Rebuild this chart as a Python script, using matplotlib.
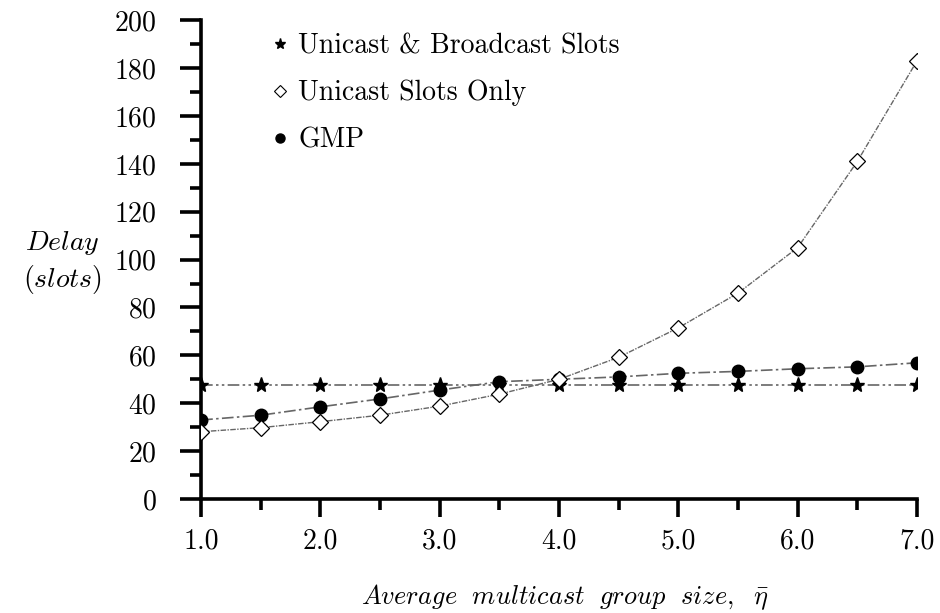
import numpy as np
from matplotlib import pyplot as plt
from matplotlib.lines import Line2D
from matplotlib.ticker import MultipleLocator, FormatStrFormatter

plt.rcParams['font.family'] = 'serif'
plt.rcParams['font.serif'] = ['cmr10']
plt.rcParams['mathtext.fontset'] = 'cm'
plt.rcParams['axes.formatter.use_mathtext'] = True

# dati
eta = np.array([1.0, 1.5, 2.0, 2.5, 3.0, 3.5, 4.0, 4.5, 5.0, 5.5, 6.0, 6.5, 7.0])
d_bcast = np.array([47.5, 47.5, 47.5, 47.5, 47.5, 47.5, 47.5, 47.5, 47.5, 47.5, 47.5, 47.5, 47.5])
d_ucast = np.array([28.1, 29.8, 32.3, 35.0, 38.8, 43.8, 50.0, 59.2, 71.5, 86.0, 105.0, 141.0, 183.0])
d_gmp = np.array([33.0, 35.0, 38.5, 41.8, 45.5, 49.0, 50.0, 51.0, 52.5, 53.3, 54.4, 55.2, 56.9])

labels = ['Unicast & Broadcast Slots', 'Unicast Slots Only', 'GMP']

fig = plt.figure(figsize=(9.4, 6.13), dpi=100)
ax = fig.add_axes([0.214, 0.186, 0.7615, 0.781])

grigio = '#666666'
ax.plot(eta, d_bcast, color=grigio, lw=1.2, linestyle=(0, (7, 2, 1.5, 2, 1.5, 2)),
        marker='*', ms=11, mfc='black', mec='black', zorder=3)
ax.plot(eta, d_gmp, color=grigio, lw=1.2, linestyle=(0, (7, 2, 1.5, 2)),
        marker='o', ms=9, mfc='black', mec='black', zorder=4)
ax.plot(eta, d_ucast, color=grigio, lw=1.0, linestyle=(0, (4, 1, 1, 1)),
        marker='D', ms=8, mfc='white', mec='black', mew=0.9, zorder=5)

ax.set_xlim(1, 7)
ax.set_ylim(0, 200)
ax.xaxis.set_major_locator(MultipleLocator(1))
ax.xaxis.set_minor_locator(MultipleLocator(0.5))
ax.yaxis.set_major_locator(MultipleLocator(20))
ax.yaxis.set_minor_locator(MultipleLocator(10))
ax.xaxis.set_major_formatter(FormatStrFormatter('%.1f'))

for s in ['top', 'right']:
    ax.spines[s].set_visible(False)
for s in ['left', 'bottom']:
    ax.spines[s].set_linewidth(2.6)

ax.tick_params(axis='both', which='major', direction='out', width=2.6, labelsize=20)
ax.tick_params(axis='y', which='major', length=15, pad=17)
ax.tick_params(axis='y', which='minor', length=8, width=2.6)
ax.tick_params(axis='x', which='major', length=13, pad=8)
ax.tick_params(axis='x', which='minor', length=8, width=2.6)
for t in ax.get_xticklabels() + ax.get_yticklabels():
    t.set_clip_on(False)

# legenda con marker piccoli
handles = [Line2D([], [], linestyle='none', marker='*', ms=8, color='black'),
           Line2D([], [], linestyle='none', marker='D', ms=6, mfc='white', mec='black', mew=0.8),
           Line2D([], [], linestyle='none', marker='o', ms=6.5, color='black')]
ax.legend(handles, labels, loc='upper left', bbox_to_anchor=(273 / 940, 1 - 33 / 613),
          bbox_transform=fig.transFigure, frameon=False, fontsize=20,
          handlelength=0.5, handletextpad=0.4, labelspacing=0.74, borderpad=0, borderaxespad=0)

fig.text(62 / 940, 1 - 262 / 613, '$Delay$\n$(slots)$', fontsize=20, ha='center', va='center',
         linespacing=1.25)
fig.text(565 / 940, 1 - 597 / 613, r'$Average\ \ multicast\ \ group\ \ size,\ \ \bar{\eta}$',
         fontsize=19, ha='center', va='center')

fig.savefig('out.png', dpi=100)
